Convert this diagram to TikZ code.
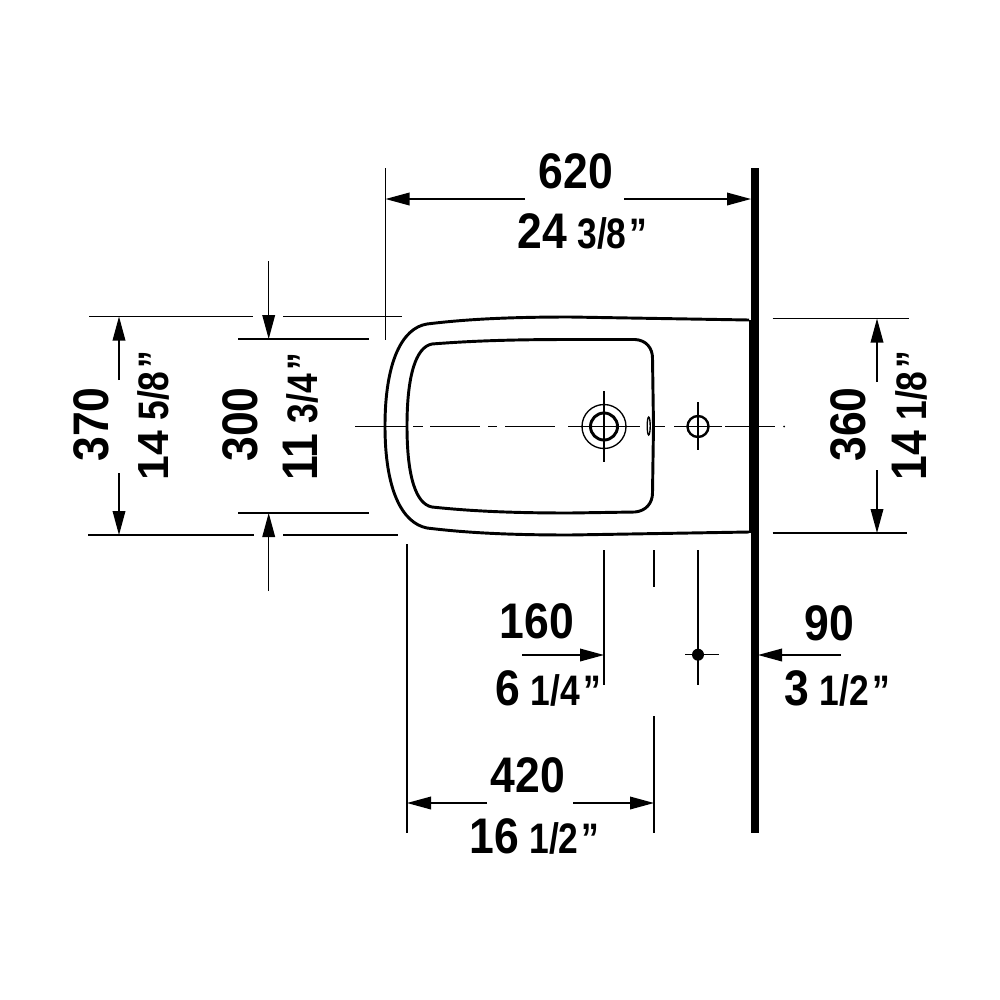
\documentclass[tikz,border=0pt]{standalone}
\usepackage{xcolor}
\usepackage{graphicx}
\usepackage{fontspec}
\setmainfont{Liberation Sans}
\usetikzlibrary{arrows.meta}
\newcommand{\DB}[1]{\scalebox{.89}[1]{\fontsize{37.5}{40}\selectfont\bfseries #1}}
\newcommand{\DS}[1]{\scalebox{.83}[1]{\fontsize{32}{34}\selectfont\bfseries #1\hspace{3pt}”}}
\newcommand{\DM}[2]{\DB{#1}\hspace{8pt}\DS{#2}}
\tikzset{
    DL/.style ={line width=1pt},
    DA/.style ={line width=1pt,-{Triangle[length=18pt,width=9.5pt]}},
    OL/.style ={line width=2.2pt},
    CL/.style ={line width=1pt},
    TB/.style ={inner sep=0pt,anchor=base},
    TM/.style ={inner sep=0pt,anchor=base west},
    TV/.style ={inner sep=0pt,anchor=base west,rotate=90}
}
\begin{document}
\begin{tikzpicture}[x=.75pt,y=-.75pt]
        \useasboundingbox (0,0) rectangle (1000,1000);
        \fill[white] (0,0) rectangle (1000,1000);
        \draw[line width=5.8pt] (754.7,168) -- (754.7,833);
        \draw[line width=6.5pt] (753.7,320) -- (753.7,533);
        \draw[OL] (749,320) -- (570,317) .. controls (500,317) and (460,320) .. (427,324)
            .. controls (402,328) and (385,362) .. (385,426)
            .. controls (385,490) and (402,523) .. (427,528)
            .. controls (460,532) and (500,535) .. (570,535) -- (749,532);
        \draw[OL] (635,339.5) -- (570,339.5) .. controls (510,339.5) and (470,341) .. (432,344)
            .. controls (416,347) and (407,375) .. (407,426)
            .. controls (407,477) and (416,504) .. (432,507)
            .. controls (470,511) and (510,513) .. (570,513) -- (635,512)
            .. controls (646,511) and (652.5,503) .. (652.5,493)
            -- (653.5,426) -- (652.5,358)
            .. controls (652.5,348) and (646,340) .. (635,339.5);
        \draw[CL] (355,426.5) -- (406,426.5) (413,426.5) -- (423,426.5) (430,426.5) -- (480,426.5)
            (488,426.5) -- (497,426.5) (505,426.5) -- (555,426.5) (568,426.5) -- (640,426.5)
            (654,426.5) -- (665,426.5) (674,426.5) -- (722,426.5) (725,426.5) -- (775,426.5);
        \fill (784,426.5) circle[radius=1];
        \draw[line width=1pt] (648.7,426) ellipse[x radius=1.5,y radius=9];
        \draw[line width=1pt] (604,426.5) circle[radius=22];
        \draw[line width=2.2pt] (604,426.5) circle[radius=13.5];
        \draw[CL] (604,391) -- (604,462);
        \draw[line width=1.8pt] (698,426.5) circle[radius=10.5];
        \draw[CL] (698,402) -- (698,450);

        \draw[DL] (385.5,168) -- (385.5,340);
        \draw[DA] (525,199) -- (385.5,199);
        \draw[DA] (624,199) -- (751,199);
        \draw[DL] (89,316.5) -- (253,316.5) (283,316.5) -- (402,316.5);
        \draw[DL] (88,535) -- (254,535) (283,535) -- (398,535);
        \draw[DL] (238,339) -- (369,339) (238,513) -- (369,513);
        \draw[DA] (119,380) -- (119,316.5);
        \draw[DA] (119,473) -- (119,535);
        \draw[DA] (268.7,261) -- (268.7,339);
        \draw[DA] (268.7,591) -- (268.7,513);
        \draw[DL] (772.5,318.5) -- (909,318.5) (772.5,533) -- (907,533);
        \draw[DA] (877,382) -- (877,318.5);
        \draw[DA] (877,470) -- (877,533);

        \draw[DL] (407,544) -- (407,833);
        \draw[DL] (604,550) -- (604,685);
        \draw[DL] (654,550) -- (654,587) (654,716) -- (654,833);
        \draw[DL] (698,550) -- (698,685) (685,654.7) -- (719,654.7);
        \fill (698,654.7) circle[radius=6];
        \draw[DA] (522,655) -- (604,655);
        \draw[DA] (841,655) -- (758,655);
        \draw[DA] (487,803) -- (407,803);
        \draw[DA] (573,803) -- (654,803);

        \node[TB] (dimA) at (576,188) {\DB{620}};
        \node[TM] (dimAi) at (517,248) {\DM{24}{3/8}};
        \node[TB] (dimB) at (537,638) {\DB{160}};
        \node[TM] (dimBi) at (495,705) {\DM{6}{1/4}};
        \node[TB] (dimC) at (829,640) {\DB{90}};
        \node[TM] (dimCi) at (784,705) {\DM{3}{1/2}};
        \node[TB] (dimD) at (528,792) {\DB{420}};
        \node[TM] (dimDi) at (469,853) {\DM{16}{1/2}};
        \node[TV] (dimE) at (108,462) {\DB{370}};
        \node[TV] (dimEi) at (168,481) {\scalebox{1}[.87]{\DB{14}}\hspace{8pt}\DS{5/8}};
        \node[TV] (dimF) at (257,462) {\DB{300}};
        \node[TV] (dimFi) at (317,481) {\DM{11}{3/4}};
        \node[TV] (dimG) at (865,462) {\DB{360}};
        \node[TV] (dimGi) at (926,481) {\DM{14}{1/8}};
    \end{tikzpicture}
\end{document}
